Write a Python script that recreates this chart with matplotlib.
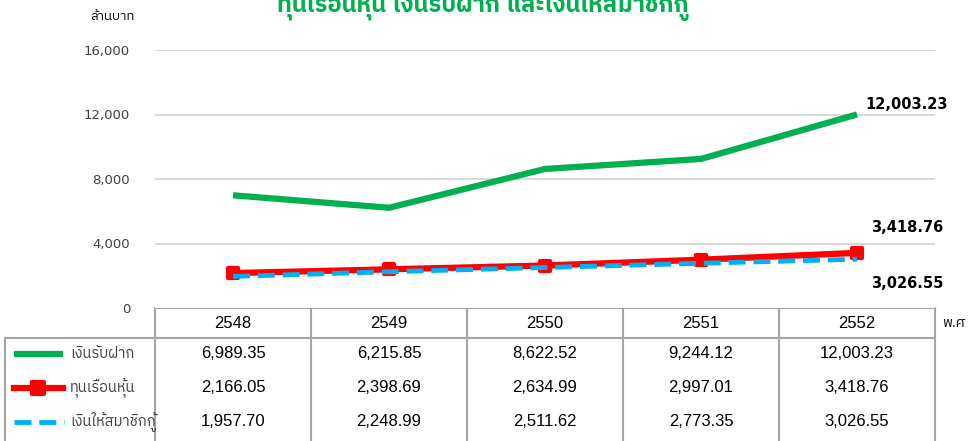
import matplotlib.pyplot as plt
from matplotlib import font_manager
from matplotlib.ft2font import FT2Font
from matplotlib.markers import MarkerStyle

# data
years = ['2548', '2549', '2550', '2551', '2552']
deposits = [6989.35, 6215.85, 8622.52, 9244.12, 12003.23]
shares = [2166.05, 2398.69, 2634.99, 2997.01, 3418.76]
loans = [1957.70, 2248.99, 2511.62, 2773.35, 3026.55]
series_names = ['เงินรับฝาก', 'ทุนเรือนหุ้น', 'เงินให้สมาชิกกู้']
yticks = [0, 4000, 8000, 12000, 16000]
title = 'ทุนเรือนหุ้น เงินรับฝาก และเงินให้สมาชิกกู้'

green = '#00B050'
red = '#FF0000'
blue = '#00B0F0'
gridc = '#a6a6a6'

# look for any installed font that carries Thai glyphs
thai_fams = []
for f in font_manager.fontManager.ttflist:
    try:
        cmap = FT2Font(f.fname).get_charmap()
    except Exception:
        continue
    if 0x0E01 in cmap and 0x0E49 in cmap and f.name not in thai_fams:
        thai_fams.append(f.name)
thai_fams.sort(key=lambda n: ('Thai' not in n, 'Looped' in n, n))

fams = ['Liberation Sans'] + thai_fams[:1] + ['DejaVu Sans']
plt.rcParams['font.family'] = fams

W, H = 971, 441
fig = plt.figure(figsize=(W / 100, H / 100), dpi=100)

# plot area in pixels
x0, x1, ytop, ybot = 155, 935, 50, 308
ax = fig.add_axes([x0 / W, 1 - ybot / H, (x1 - x0) / W, (ybot - ytop) / H])
ax.set_xlim(-0.5, len(years) - 0.5)
ax.set_ylim(0, 16000)
for s in ax.spines.values():
    s.set_visible(False)
ax.set_xticks([])
ax.set_yticks(yticks)
ax.set_yticklabels(['{:,}'.format(v) for v in yticks], fontsize=9.5,
                   color='#404040', family=['DejaVu Sans'])
ax.tick_params(axis='y', length=0, pad=18)
for v in yticks[1:]:
    ax.axhline(v, color='#d9d9d9', lw=1.5, zorder=0)

xs = list(range(len(years)))
msq = MarkerStyle('s', joinstyle='round')
ax.plot(xs, deposits, color=green, lw=4.5, solid_capstyle='butt', zorder=3)
ax.plot(xs, shares, color=red, lw=4.5, marker=msq, ms=7, mew=3,
        mec=red, mfc=red, zorder=3)
ax.plot(xs, loans, color=blue, lw=3.5, dashes=(3.5, 1.6), zorder=4)

lab_kw = dict(fontsize=10.5, fontweight='bold', color='black',
              family=['DejaVu Sans'], ha='center', va='center')
ax.annotate('{:,.2f}'.format(deposits[-1]), (xs[-1], deposits[-1]),
            xytext=(50, 10), textcoords='offset pixels', **lab_kw)
ax.annotate('{:,.2f}'.format(shares[-1]), (xs[-1], shares[-1]),
            xytext=(50, 25), textcoords='offset pixels', **lab_kw)
ax.annotate('{:,.2f}'.format(loans[-1]), (xs[-1], loans[-1]),
            xytext=(50, -24), textcoords='offset pixels', **lab_kw)

# overlay in pixel coords for title, labels and data table
tax = fig.add_axes([0, 0, 1, 1], zorder=-1)
tax.set_xlim(0, W)
tax.set_ylim(H, 0)
tax.axis('off')

tax.text(483, 21, title, color=green, fontsize=17, fontweight='bold',
         ha='center', va='bottom')
tax.text(112, 17, 'ล้านบาท', fontsize=9.5, color='black', ha='center',
         va='center')

# table grid
cw = (x1 - x0) / len(years)
hdr_top, hdr_bot, tab_left = 308, 338, 5
tax.plot([x0, x1], [hdr_top, hdr_top], color=gridc, lw=1.5)
tax.plot([tab_left, x1], [hdr_bot, hdr_bot], color=gridc, lw=1.5)
tax.plot([tab_left, tab_left], [hdr_bot, H + 5], color=gridc, lw=1.5)
for i in range(len(years) + 1):
    xv = x0 + i * cw
    tax.plot([xv, xv], [hdr_top, H + 5], color=gridc, lw=1.5)

for i, yr in enumerate(years):
    tax.text(x0 + (i + 0.5) * cw, 323, yr, fontsize=12, ha='center',
             va='center')
tax.text(942, 323, 'พ.ศ', fontsize=10, ha='left', va='center')

rows_y = [354, 388, 422]
for r, vals in enumerate([deposits, shares, loans]):
    for i, v in enumerate(vals):
        tax.text(x0 + (i + 0.5) * cw, rows_y[r], '{:,.2f}'.format(v),
                 fontsize=12, ha='center', va='center')
    tax.text(70, rows_y[r], series_names[r], fontsize=10.5, color='#404040',
             ha='left', va='center')

# legend keys
tax.plot([14, 63], [rows_y[0]] * 2, color=green, lw=4.5,
         solid_capstyle='butt')
tax.plot([14, 63], [rows_y[1]] * 2, color=red, lw=4.5)
tax.plot([38], [rows_y[1]], marker=msq, ms=8, mew=3, color=red)
tax.plot([14, 64], [rows_y[2]] * 2, color=blue, lw=3.5, dashes=(3.5, 1.6))

fig.savefig('out.png', dpi=100)
